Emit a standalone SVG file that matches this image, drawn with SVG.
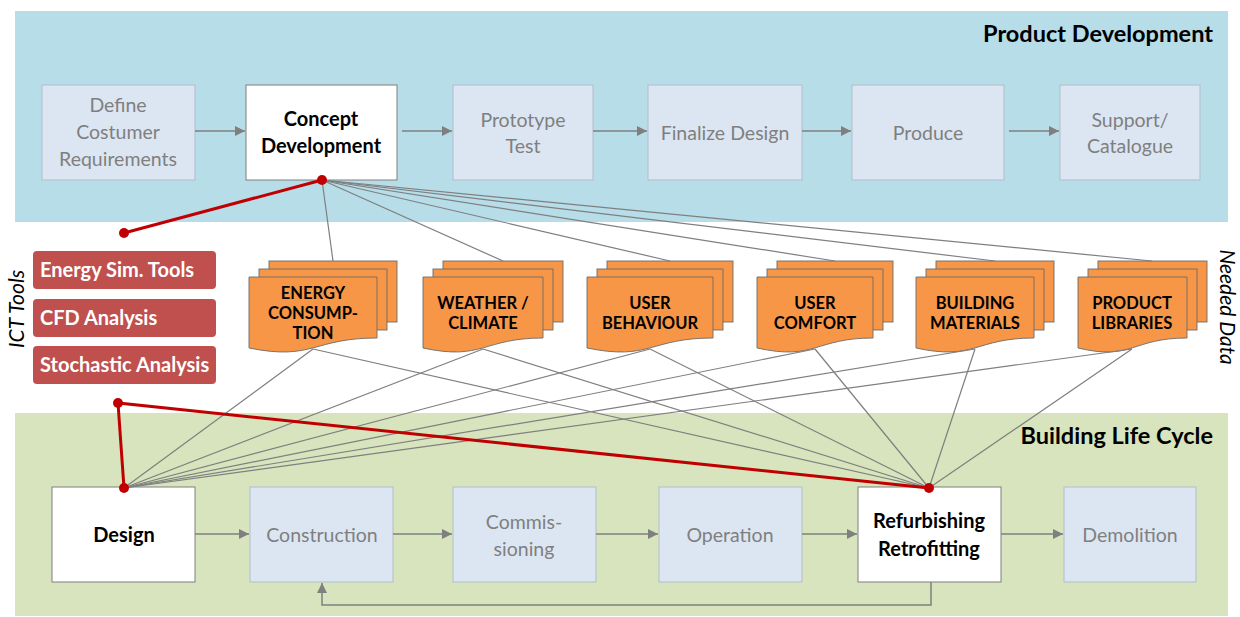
<svg xmlns="http://www.w3.org/2000/svg" width="1240" height="617" viewBox="0 0 1240 617">
<defs>
<marker id="arr" viewBox="0 0 10 10" refX="10" refY="5" markerWidth="10" markerHeight="10" markerUnits="userSpaceOnUse" orient="auto">
<path d="M0,0 L10,5 L0,10 Z" fill="#7f7f7f"/>
</marker>
<style>
text{font-family:Lato,"Open Sans","Liberation Sans",sans-serif}
.box{fill:#dce6f2;stroke:#b3bdca;stroke-width:1}
.wbox{fill:#ffffff;stroke:#7f7f7f;stroke-width:1}
.gt{fill:#7f7f7f;font-size:19.5px;text-anchor:middle}
.bt{fill:#000;font-size:20px;font-weight:bold;text-anchor:middle}
.doc{fill:#f79646;stroke:#6b6b6b;stroke-width:0.9}
.dt{fill:#000;font-size:16.5px;font-weight:bold;text-anchor:middle}
.tool{fill:#c0504d}
.tt{fill:#fff;font-size:20px;font-weight:bold}
.gl{stroke:#7f7f7f;stroke-width:1.2;fill:none}
.flow{stroke:#7f7f7f;stroke-width:1.5;fill:none;marker-end:url(#arr)}
.red{stroke:#c00000;stroke-width:3;fill:none}
.dot{fill:#c00000}
.title{fill:#000;font-size:23.5px;font-weight:bold;text-anchor:end}
.side{fill:#000;font-size:21px;font-style:italic;text-anchor:middle}
</style>
</defs>
<rect x="0" y="0" width="1240" height="617" fill="#ffffff"/>
<rect x="15" y="11" width="1213" height="211" fill="#b7dde8"/>
<rect x="15" y="413" width="1213" height="203" fill="#d7e4bd"/>
<text class="title" x="1213" y="42">Product Development</text>
<text class="title" x="1213" y="444">Building Life Cycle</text>
<text class="side" transform="translate(24,309) rotate(-90)">ICT Tools</text>
<text class="side" transform="translate(1220,307) rotate(90)">Needed Data</text>

<g id="define"><rect class="box" x="42" y="85" width="153" height="95"/><text class="gt" x="118" y="112">Define</text><text class="gt" x="118" y="139">Costumer</text><text class="gt" x="118" y="166">Requirements</text></g>
<g id="concept"><rect class="wbox" x="246" y="85" width="151" height="95"/><text class="bt" x="321" y="126">Concept</text><text class="bt" x="321" y="153">Development</text></g>
<g id="prototype"><rect class="box" x="453" y="85" width="140" height="95"/><text class="gt" x="523" y="127">Prototype</text><text class="gt" x="523" y="153">Test</text></g>
<g id="finalize"><rect class="box" x="648" y="85" width="154" height="95"/><text class="gt" x="725" y="140">Finalize Design</text></g>
<g id="produce"><rect class="box" x="852" y="85" width="152" height="95"/><text class="gt" x="928" y="140">Produce</text></g>
<g id="support"><rect class="box" x="1060" y="85" width="140" height="95"/><text class="gt" x="1130" y="127">Support/</text><text class="gt" x="1130" y="153">Catalogue</text></g>

<g id="tool-energy"><rect class="tool" x="33" y="251" width="183" height="38" rx="4"/><text class="tt" x="40" y="277">Energy Sim. Tools</text></g>
<g id="tool-cfd"><rect class="tool" x="33" y="299" width="183" height="38" rx="4"/><text class="tt" x="40" y="325">CFD Analysis</text></g>
<g id="tool-stoch"><rect class="tool" x="33" y="346" width="183" height="38" rx="4"/><text class="tt" x="40" y="372">Stochastic Analysis</text></g>

<g id="doc-energy">
<rect class="doc" x="269" y="261" width="128" height="61"/>
<rect class="doc" x="259" y="269" width="128" height="61"/>
<path class="doc" d="M249,277 H377 V338 C313,338 313,361 249,348 Z"/>
<text class="dt" x="313" y="299">ENERGY</text><text class="dt" x="313" y="319">CONSUMP-</text><text class="dt" x="313" y="339">TION</text>
</g>
<g id="doc-weather">
<rect class="doc" x="443" y="261" width="120" height="61"/>
<rect class="doc" x="433" y="269" width="120" height="61"/>
<path class="doc" d="M423,277 H543 V338 C483,338 483,361 423,348 Z"/>
<text class="dt" x="483" y="309">WEATHER /</text><text class="dt" x="483" y="329">CLIMATE</text>
</g>
<g id="doc-behaviour">
<rect class="doc" x="607" y="261" width="126" height="61"/>
<rect class="doc" x="597" y="269" width="126" height="61"/>
<path class="doc" d="M587,277 H713 V338 C650,338 650,361 587,348 Z"/>
<text class="dt" x="650" y="309">USER</text><text class="dt" x="650" y="329">BEHAVIOUR</text>
</g>
<g id="doc-comfort">
<rect class="doc" x="777" y="261" width="116" height="61"/>
<rect class="doc" x="767" y="269" width="116" height="61"/>
<path class="doc" d="M757,277 H873 V338 C815,338 815,361 757,348 Z"/>
<text class="dt" x="815" y="309">USER</text><text class="dt" x="815" y="329">COMFORT</text>
</g>
<g id="doc-materials">
<rect class="doc" x="936" y="261" width="118" height="61"/>
<rect class="doc" x="926" y="269" width="118" height="61"/>
<path class="doc" d="M916,277 H1034 V338 C975,338 975,361 916,348 Z"/>
<text class="dt" x="975" y="309">BUILDING</text><text class="dt" x="975" y="329">MATERIALS</text>
</g>
<g id="doc-libraries">
<rect class="doc" x="1098" y="261" width="109" height="61"/>
<rect class="doc" x="1088" y="269" width="109" height="61"/>
<path class="doc" d="M1078,277 H1187 V338 C1132,338 1132,361 1078,348 Z"/>
<text class="dt" x="1132" y="309">PRODUCT</text><text class="dt" x="1132" y="329">LIBRARIES</text>
</g>

<g id="design"><rect class="wbox" x="52" y="487" width="143" height="95"/><text class="bt" x="124" y="542">Design</text></g>
<g id="construction"><rect class="box" x="250" y="487" width="143" height="95"/><text class="gt" x="322" y="542">Construction</text></g>
<g id="commissioning"><rect class="box" x="453" y="487" width="143" height="95"/><text class="gt" x="524" y="529">Commis-</text><text class="gt" x="524" y="556">sioning</text></g>
<g id="operation"><rect class="box" x="659" y="487" width="143" height="95"/><text class="gt" x="730" y="542">Operation</text></g>
<g id="refurbishing"><rect class="wbox" x="858" y="487" width="143" height="95"/><text class="bt" x="929" y="528">Refurbishing</text><text class="bt" x="929" y="556">Retrofitting</text></g>
<g id="demolition"><rect class="box" x="1064" y="487" width="132" height="95"/><text class="gt" x="1130" y="542">Demolition</text></g>

<g id="connectors">
<line class="flow" x1="195" y1="131" x2="245" y2="131"/>
<line class="flow" x1="402" y1="131" x2="452" y2="131"/>
<line class="flow" x1="593" y1="131" x2="647" y2="131"/>
<line class="flow" x1="802" y1="131" x2="851" y2="131"/>
<line class="flow" x1="1009" y1="131" x2="1059" y2="131"/>
<line class="flow" x1="195" y1="534" x2="249" y2="534"/>
<line class="flow" x1="393" y1="534" x2="452" y2="534"/>
<line class="flow" x1="596" y1="534" x2="658" y2="534"/>
<line class="flow" x1="802" y1="534" x2="857" y2="534"/>
<line class="flow" x1="1001" y1="534" x2="1063" y2="534"/>
<path class="flow" d="M931,582 V605 H322 V583"/>
<g class="gl">
<line x1="322" y1="180" x2="333" y2="261"/>
<line x1="322" y1="180" x2="503" y2="261"/>
<line x1="322" y1="180" x2="670" y2="261"/>
<line x1="322" y1="180" x2="835" y2="261"/>
<line x1="322" y1="180" x2="995" y2="261"/>
<line x1="322" y1="180" x2="1152" y2="261"/>
<line x1="124" y1="488" x2="313" y2="349"/>
<line x1="124" y1="488" x2="483" y2="349"/>
<line x1="124" y1="488" x2="650" y2="349"/>
<line x1="124" y1="488" x2="815" y2="349"/>
<line x1="124" y1="488" x2="975" y2="349"/>
<line x1="124" y1="488" x2="1132" y2="349"/>
<line x1="929" y1="488" x2="313" y2="349"/>
<line x1="929" y1="488" x2="483" y2="349"/>
<line x1="929" y1="488" x2="650" y2="349"/>
<line x1="929" y1="488" x2="815" y2="349"/>
<line x1="929" y1="488" x2="975" y2="349"/>
<line x1="929" y1="488" x2="1132" y2="349"/>
</g>
<polyline class="red" points="124,233 322,180"/>
<polyline class="red" points="124,488 118,403 929,488"/>
<circle class="dot" cx="322" cy="180" r="5"/>
<circle class="dot" cx="124" cy="233" r="5"/>
<circle class="dot" cx="118" cy="403" r="5"/>
<circle class="dot" cx="124" cy="488" r="5"/>
<circle class="dot" cx="929" cy="488" r="5"/>
</g>
</svg>
